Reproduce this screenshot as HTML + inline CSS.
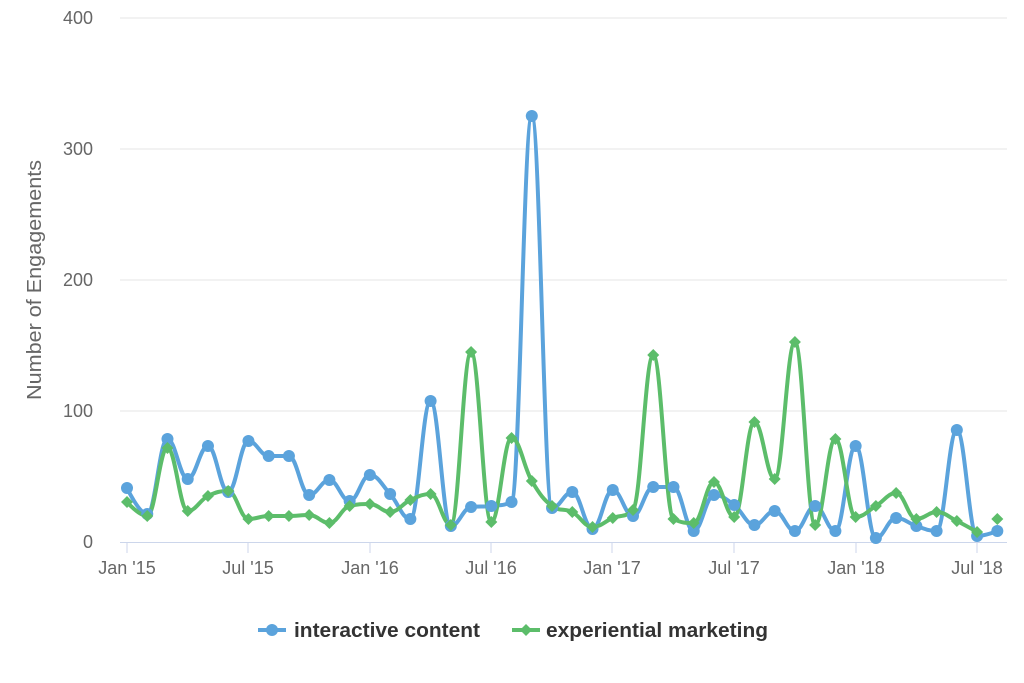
<!DOCTYPE html>
<html><head><meta charset="utf-8"><style>
html,body{margin:0;padding:0;background:#fff;}
svg{display:block;font-family:"Liberation Sans",sans-serif;}
</style></head><body>
<svg id="c" width="1024" height="683" xmlns="http://www.w3.org/2000/svg">
<g stroke="#e6e6e6" stroke-width="1">
<line x1="120" y1="18" x2="1007" y2="18"/><line x1="120" y1="149" x2="1007" y2="149"/>
<line x1="120" y1="280" x2="1007" y2="280"/><line x1="120" y1="411" x2="1007" y2="411"/>
</g>
<line x1="120" y1="542.5" x2="1007" y2="542.5" stroke="#ccd6eb"/>
<g stroke="#ccd6eb">
<line x1="127" y1="542" x2="127" y2="553"/><line x1="248" y1="542" x2="248" y2="553"/>
<line x1="370" y1="542" x2="370" y2="553"/><line x1="491" y1="542" x2="491" y2="553"/>
<line x1="612" y1="542" x2="612" y2="553"/><line x1="734" y1="542" x2="734" y2="553"/>
<line x1="856" y1="542" x2="856" y2="553"/><line x1="977" y1="542" x2="977" y2="553"/>
</g>
<g fill="#666" font-size="18" text-anchor="end">
<text x="93" y="24">400</text><text x="93" y="155">300</text><text x="93" y="286">200</text>
<text x="93" y="417">100</text><text x="93" y="548">0</text>
</g>
<g fill="#666" font-size="18" text-anchor="middle">
<text x="127" y="574">Jan '15</text><text x="248" y="574">Jul '15</text>
<text x="370" y="574">Jan '16</text><text x="491" y="574">Jul '16</text>
<text x="612" y="574">Jan '17</text><text x="734" y="574">Jul '17</text>
<text x="856" y="574">Jan '18</text><text x="977" y="574">Jul '18</text>
</g>
<text transform="translate(41,280) rotate(-90)" fill="#666" font-size="20" text-anchor="middle" textLength="240" lengthAdjust="spacingAndGlyphs">Number of Engagements</text>
<g id="series"></g>
<g font-size="20" font-weight="bold" fill="#333">
<line x1="258" y1="630" x2="286" y2="630" stroke="#5ba3dc" stroke-width="4"/>
<circle cx="272" cy="630" r="6" fill="#5ba3dc"/>
<text x="294" y="637" textLength="186" lengthAdjust="spacingAndGlyphs">interactive content</text>
<line x1="512" y1="630" x2="540" y2="630" stroke="#5cbd6a" stroke-width="4"/>
<path d="M526 624 L532 630 L526 636 L520 630Z" fill="#5cbd6a"/>
<text x="546" y="637" textLength="222" lengthAdjust="spacingAndGlyphs">experiential marketing</text>
</g>
</svg>
<script>
var blue=[488,514,439,479,446,492,441,456,456,495,480,501,475,494,519,401,526,507,506,502,116,508,492,529,490,516,487,487,531,495,505,525,511,531,506,531,446,538,518,526,531,430,536,531];
var green=[502,516,448,511,496,491,519,516,516,515,523,506,504,512,500,494,525,352,522,438,481,506,512,527,518,510,355,519,523,482,517,422,479,342,525,439,517,506,493,519,512,521,532,519];
function X(i){return 127+20.24*i;}
function path(ys,n){
 var pts=ys.slice(0,n).map(function(y,i){return [X(i),y];});
 var s=1.5,d=2.5,L=[],R=[];
 for(var i=0;i<pts.length;i++){
  var p=pts[i],a=pts[i-1],b=pts[i+1];
  if(!a||!b){L.push(p);R.push(p);continue;}
  var lx=(s*p[0]+a[0])/d,ly=(s*p[1]+a[1])/d,rx=(s*p[0]+b[0])/d,ry=(s*p[1]+b[1])/d;
  var c=((ry-ly)*(rx-p[0]))/(rx-lx)+p[1]-ry;ly+=c;ry+=c;
  if(ly>a[1]&&ly>p[1]){ly=Math.max(a[1],p[1]);ry=2*p[1]-ly;}
  else if(ly<a[1]&&ly<p[1]){ly=Math.min(a[1],p[1]);ry=2*p[1]-ly;}
  if(ry>b[1]&&ry>p[1]){ry=Math.max(b[1],p[1]);ly=2*p[1]-ry;}
  else if(ry<b[1]&&ry<p[1]){ry=Math.min(b[1],p[1]);ly=2*p[1]-ry;}
  L.push([lx,ly]);R.push([rx,ry]);
 }
 var dd="M"+pts[0][0]+" "+pts[0][1];
 for(var i=1;i<pts.length;i++){dd+=" C"+R[i-1][0]+" "+R[i-1][1]+" "+L[i][0]+" "+L[i][1]+" "+pts[i][0]+" "+pts[i][1];}
 return dd;
}
var g=document.getElementById('series'),h='';
h+='<path d="'+path(blue,44)+'" fill="none" stroke="#5ba3dc" stroke-width="4" stroke-linejoin="round"/>';
h+='<path d="'+path(green,43)+'" fill="none" stroke="#5cbd6a" stroke-width="4" stroke-linejoin="round"/>';
blue.forEach(function(y,i){h+='<circle cx="'+X(i)+'" cy="'+y+'" r="6" fill="#5ba3dc"/>';});
green.forEach(function(y,i){var x=X(i);h+='<path d="M'+x+' '+(y-6)+' L'+(x+6)+' '+y+' L'+x+' '+(y+6)+' L'+(x-6)+' '+y+'Z" fill="#5cbd6a"/>';});
g.innerHTML=h;
</script>
</body></html>
